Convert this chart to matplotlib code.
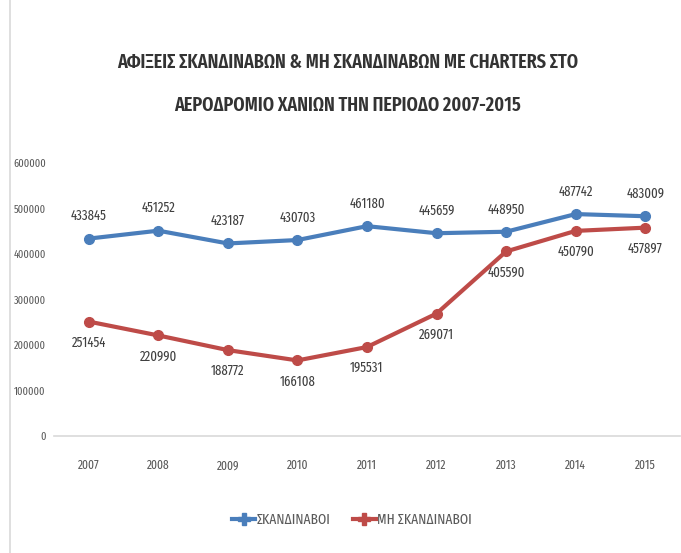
import matplotlib.pyplot as plt
from matplotlib.lines import Line2D

# Data
years = ["2007", "2008", "2009", "2010", "2011", "2012", "2013", "2014", "2015"]
scandinavians = [433845, 451252, 423187, 430703, 461180, 445659, 448950, 487742, 483009]
non_scandinavians = [251454, 220990, 188772, 166108, 195531, 269071, 405590, 450790, 457897]
yticks = [0, 100000, 200000, 300000, 400000, 500000, 600000]

plt.rcParams['font.family'] = ['Fira Sans Extra Condensed', 'DejaVu Sans']

blue = '#4A7EBB'
red = '#BE4B48'

fig = plt.figure(figsize=(6.81, 5.53), dpi=100)
ax = fig.add_axes([54 / 681, 1 - 436 / 553, 626 / 681, (436 - 163) / 553])

x = list(range(len(years)))
ax.plot(x, scandinavians, color=blue, lw=3, marker='o', ms=7)
ax.plot(x, non_scandinavians, color=red, lw=3, marker='o', ms=7)

for i, v in enumerate(scandinavians):
    ax.annotate(str(v), (i, v), xytext=(0, 11), textcoords='offset points',
                ha='center', va='bottom', fontsize=10, color='#404040')
for i, v in enumerate(non_scandinavians):
    ax.annotate(str(v), (i, v), xytext=(0, -10), textcoords='offset points',
                ha='center', va='top', fontsize=10, color='#404040')

ax.set_xlim(-0.5, len(years) - 0.5)
ax.set_ylim(0, 600000)
ax.set_xticks(x)
ax.set_xticklabels(years)
ax.set_yticks(yticks)
ax.set_yticklabels([str(t) for t in yticks])
ax.tick_params(length=0, colors='#595959')
ax.tick_params(axis='y', pad=6, labelsize=8)
ax.tick_params(axis='x', pad=17, labelsize=9)
for s in ['top', 'right', 'left']:
    ax.spines[s].set_visible(False)
ax.spines['bottom'].set_color('#D9D9D9')
ax.spines['bottom'].set_linewidth(1.2)

fig.text(348 / 681, 1 - 62 / 553, 'ΑΦΙΞΕΙΣ ΣΚΑΝΔΙΝΑΒΩΝ & ΜΗ ΣΚΑΝΔΙΝΑΒΩΝ ΜΕ CHARTERS ΣΤΟ',
         ha='center', va='center', fontsize=14.2, fontweight='semibold', color='#333333')
fig.text(348 / 681, 1 - 105 / 553, 'ΑΕΡΟΔΡΟΜΙΟ ΧΑΝΙΩΝ ΤΗΝ ΠΕΡΙΟΔΟ 2007-2015',
         ha='center', va='center', fontsize=14.2, fontweight='semibold', color='#333333')

handles = [Line2D([], [], color=blue, lw=3, marker='P', ms=8),
           Line2D([], [], color=red, lw=3, marker='P', ms=8)]
fig.legend(handles, ['ΣΚΑΝΔΙΝΑΒΟΙ', 'ΜΗ ΣΚΑΝΔΙΝΑΒΟΙ'], loc='center',
           bbox_to_anchor=(352 / 681, 1 - 520 / 553), ncol=2, frameon=False,
           fontsize=10.5, labelcolor='#595959', handlelength=1.6, columnspacing=1.5,
           handletextpad=0.1)

# chart border on the left edge
fig.add_artist(Line2D([10 / 681, 10 / 681], [0, 1], color='#D9D9D9', lw=1.2))

fig.savefig('out.png', dpi=100)
